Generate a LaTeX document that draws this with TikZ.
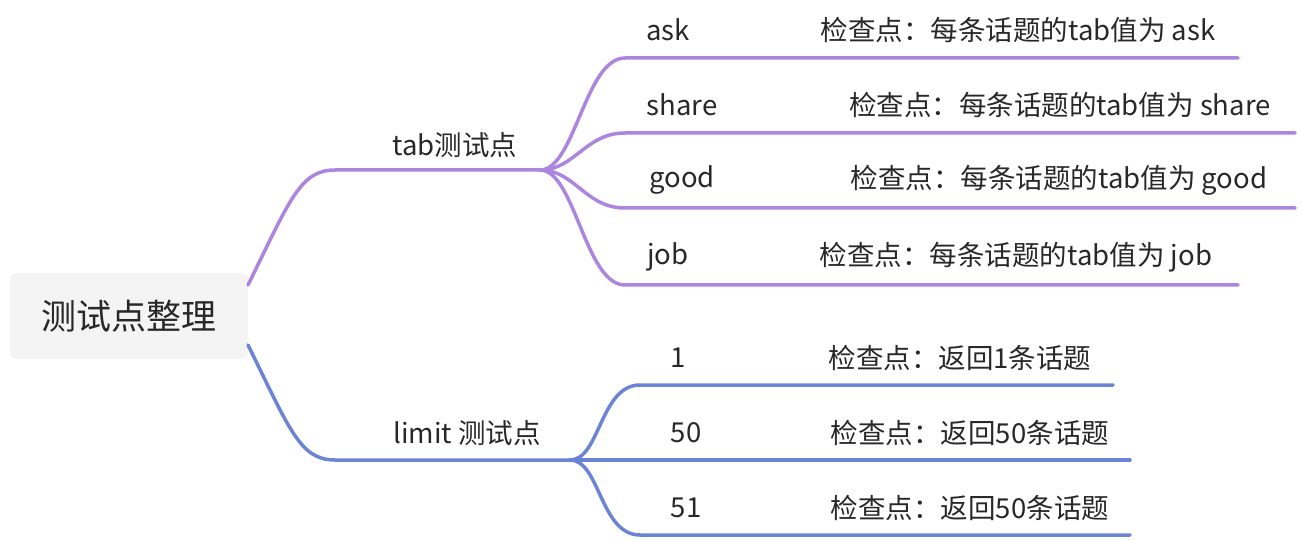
\documentclass[tikz,border=0pt]{standalone}
\usepackage{fontspec}
\setmainfont{Noto Sans CJK SC}
\definecolor{tabcol}{RGB}{172,134,222}
\definecolor{limcol}{RGB}{108,132,214}
\definecolor{rootbg}{RGB}{244,244,244}
\definecolor{txt}{RGB}{40,40,40}
\begin{document}
\begin{tikzpicture}[x=1pt,y=-1pt]
        \tikzstyle{root-node}=[fill=rootbg, rounded corners=5pt, minimum width=238pt, minimum height=85pt, font=\fontsize{35}{40}\selectfont, text=txt]
        \tikzstyle{label}=[font=\fontsize{27.5}{32}\selectfont, text=txt, inner sep=0pt]
        \tikzstyle{branch}=[line width=3.5pt, line cap=round]
        \useasboundingbox (0,0) rectangle (1302,540);
        \node[root-node] (root) at (129,316) {测试点整理};

        % tab branch
        \coordinate (tab-a) at (248,285);
        \coordinate (tab-b) at (335,170);
        \coordinate (tab-c) at (540,170);
        \node[label] (tab) at (455,145) {tab测试点};
        \draw[branch, tabcol] (tab-a) .. controls (290,200) and (300,170) .. (tab-b) -- (tab-c);
        \foreach \y/\e/\k/\v/\kx/\vx in {58/1238/ask/ask/668/1018, 133/1295/share/share/682/1060, 208/1295/good/good/682/1059, 285/1238/job/job/668/1016} {
            \coordinate (end-\k) at (\e,\y);
            \node[label] (key-\k) at (\kx,\y-28) {\k};
            \node[label] (val-\k) at (\vx,\y-28) {检查点：每条话题的tab值为 \v};
            \draw[branch, tabcol] (tab-c) .. controls (575,170) and (585,\y) .. (625,\y) -- (end-\k);
        }

        % limit branch
        \coordinate (lim-a) at (248,345);
        \coordinate (lim-b) at (335,460);
        \coordinate (lim-c) at (570,460);
        \node[label] (limit) at (467,433) {limit 测试点};
        \draw[branch, limcol] (lim-a) .. controls (290,430) and (300,460) .. (lim-b) -- (lim-c);
        \foreach \y/\e/\k/\v/\kx/\vx in {385/1113/1/1/678/960, 460/1130/50/50/686/970, 535/1130/51/50/686/970} {
            \coordinate (end-\k) at (\e,\y);
            \node[label] (key-\k) at (\kx,\y-27) {\k};
            \node[label] (val-\k) at (\vx,\y-27) {检查点：返回\v 条话题};
            \draw[branch, limcol] (lim-c) .. controls (600,460) and (600,\y) .. (640,\y) -- (end-\k);
        }
\end{tikzpicture}
\end{document}
